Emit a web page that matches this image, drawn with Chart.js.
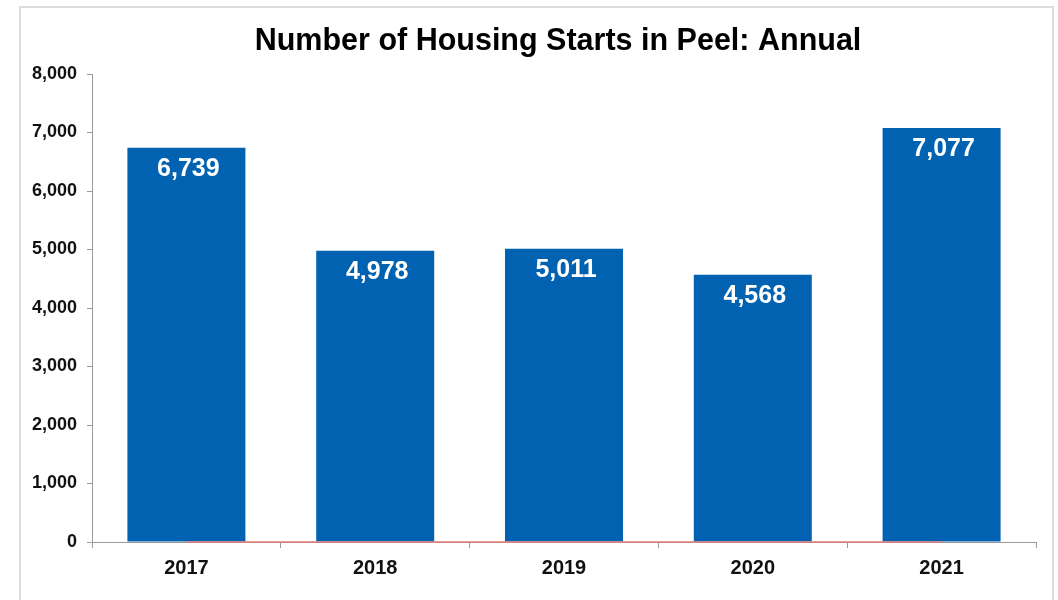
<!DOCTYPE html>
<html>
<head>
<meta charset="utf-8">
<script src="https://cdn.jsdelivr.net/npm/chart.js@4"></script>
<style>
  html, body { margin: 0; padding: 0; background: #fff; }
  #wrap { position: relative; width: 1058px; height: 600px; overflow: hidden; }
  #frame { position: absolute; left: 19px; top: 6px; width: 1031px; height: 700px; border: 2px solid #dcdcdc; }
  canvas { position: absolute; left: 0; top: 0; }
</style>
</head>
<body>
<div id="wrap">
  <div id="frame"></div>
  <canvas id="housingChart" width="1058" height="600"></canvas>
</div>
<script>
// values
var years = ["2017", "2018", "2019", "2020", "2021"]
var starts = [6739, 4978, 5011, 4568, 7077]
var baseline = [0, 0, 0, 0, 0]
var titleText = "Number of Housing Starts in Peel: Annual"

var barBlue = "#0062b0"
var axisGrey = "#9a9a9a"
var fontFam = "'Liberation Sans', Arial, sans-serif"

// white numbers inside the top of each bar + the title
var barLabels = {
    id: 'barLabels',
    afterDatasetsDraw(chart) {
        const ctx = chart.ctx
        const meta = chart.getDatasetMeta(1)
        ctx.save()
        ctx.fillStyle = "#ffffff"
        ctx.font = "bold 25px " + fontFam
        ctx.textAlign = "center"
        ctx.textBaseline = "middle"
        meta.data.forEach(function(bar, i) {
            ctx.fillText(starts[i].toLocaleString("en-US"), bar.x + 2, bar.y + 21)
        })
        ctx.restore()
    },
    afterDraw(chart) {
        const ctx = chart.ctx
        ctx.save()
        ctx.fillStyle = "#000"
        ctx.font = "bold 30.5px " + fontFam
        ctx.textAlign = "center"
        ctx.textBaseline = "middle"
        ctx.fillText(titleText, 558, 42)
        ctx.restore()
    }
}

const ctx = document.getElementById("housingChart").getContext('2d')
chart = new Chart(ctx, {
    type: "bar",
    data: {
        labels: years,
        datasets: [{
            type: "line",
            data: baseline,
            borderColor: "#e07a7a",
            borderWidth: 1.5,
            pointRadius: 0,
            fill: false,
            clip: false,
            order: 0
        }, {
            type: "bar",
            data: starts,
            backgroundColor: barBlue,
            categoryPercentage: 1,
            barPercentage: 0.625,
            order: 1
        }]
    },
    options: {
        responsive: false,
        animation: false,
        layout: {
            padding: { left: 0, right: 22, top: 74, bottom: 0 }
        },
        scales: {
            x: {
                grid: {
                    drawOnChartArea: false,
                    drawTicks: true,
                    tickLength: 6,
                    color: axisGrey,
                    offset: true
                },
                border: { display: true, color: axisGrey, width: 1 },
                ticks: {
                    color: "#111",
                    padding: 8,
                    font: { family: fontFam, size: 20, weight: "bold" }
                },
                afterFit: function(scale) { scale.height = 58 }
            },
            y: {
                min: 0,
                max: 8000,
                ticks: {
                    stepSize: 1000,
                    color: "#111",
                    padding: 10,
                    font: { family: fontFam, size: 18, weight: "bold" },
                    callback: function(v) { return v.toLocaleString("en-US") }
                },
                grid: {
                    drawOnChartArea: false,
                    drawTicks: true,
                    tickLength: 5,
                    color: axisGrey
                },
                border: { display: true, color: axisGrey, width: 1 },
                afterFit: function(scale) { scale.width = 92 }
            }
        },
        plugins: {
            legend: { display: false },
            tooltip: { enabled: false },
            title: { display: false }
        }
    },
    plugins: [barLabels]
})
</script>
</body>
</html>
